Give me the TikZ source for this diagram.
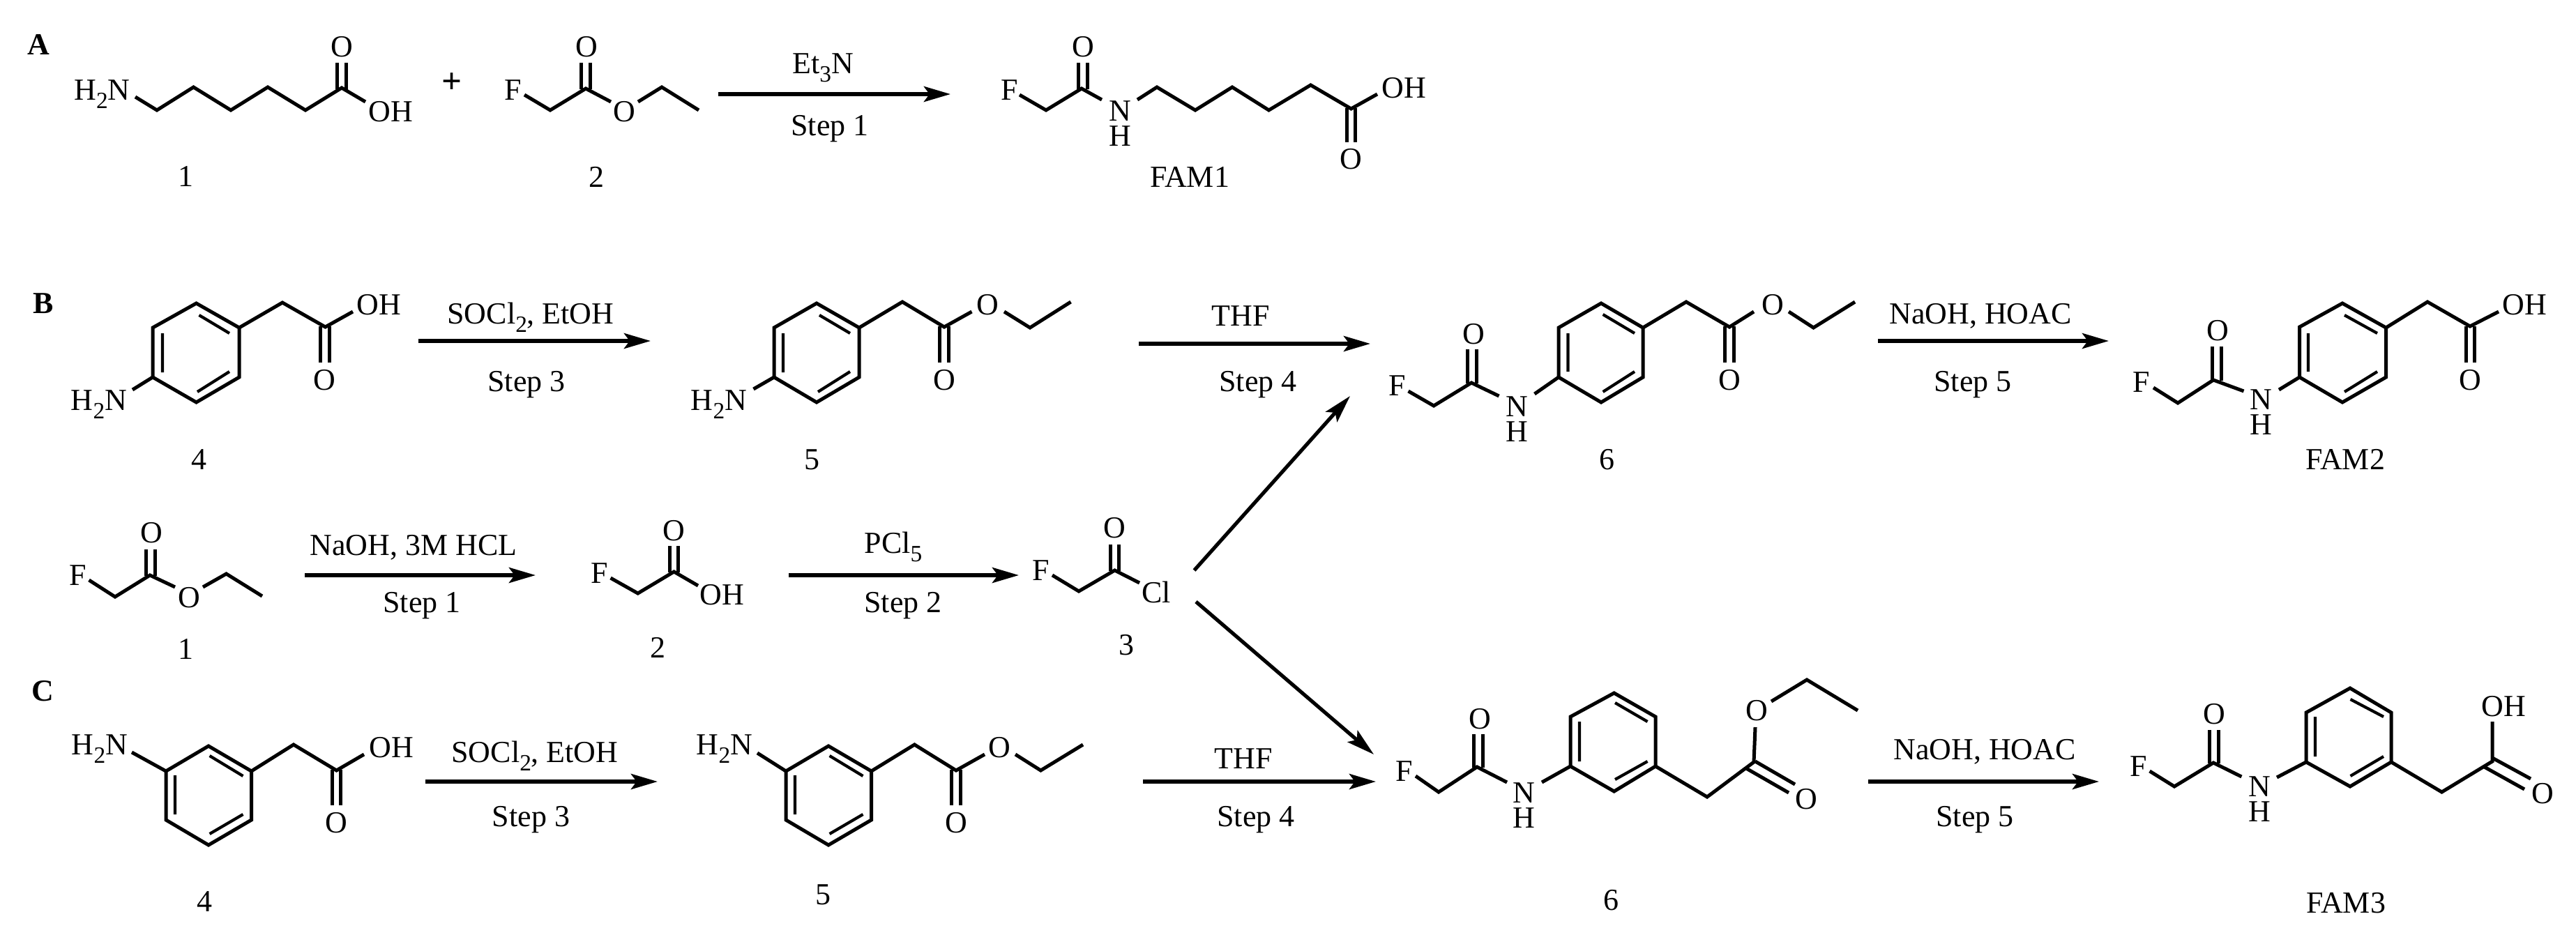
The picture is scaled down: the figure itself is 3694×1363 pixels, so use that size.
\documentclass[tikz,border=0pt]{standalone}
\usepackage{fontspec}
\setmainfont{Liberation Serif}
\usetikzlibrary{arrows.meta}
\newcommand\subs[1]{\raisebox{-0.28em}{\fontsize{9.5pt}{10pt}\selectfont #1}}
\newcommand\lab[3]{\node[txt] (#1) at (#2) {#3};}
\newcommand\nh[2]{\node[txt] (#1) at (#2) {\rlap{\raisebox{0.355cm}{N}}H};}
\newcommand\dv[4][6.2]{\draw[bond] ({#2-#1},#3) -- ({#2-#1},#4) ({#2+#1},#3) -- ({#2+#1},#4);}
\newcommand\rxn[3]{\coordinate (#1s) at (#2); \coordinate (#1e) at (#3); \draw[rxnarrow] (#1s) -- (#1e);}
\tikzset{
  x=0.01cm, y=-0.01cm,
  txt/.style={inner sep=0pt, outer sep=0pt, anchor=base, font=\fontsize{12.5pt}{14pt}\selectfont},
  panel/.style={txt, font=\fontsize{14.5pt}{16pt}\selectfont\bfseries},
  bond/.style={line width=0.05cm, line join=miter, line cap=butt, black},
  inner/.style={line width=0.042cm, black},
  rxnarrow/.style={line width=0.058cm, black, -{Stealth[length=0.38cm, width=0.22cm, inset=0.08cm]}},
  diagarrow/.style={line width=0.052cm, black, -{Stealth[length=0.40cm, width=0.22cm, inset=0.08cm]}},
}
\begin{document}
\begin{tikzpicture}
\useasboundingbox (0,0) rectangle (3694,1363);
% ---------- Panel A
\lab{pA}{55,78}{\bfseries A}
\lab{aN}{146.5,143}{H\subs{2}N}
\draw[bond] (194,139) -- (225,158) -- (277.5,125) -- (331,158) -- (384,125) -- (438,158) -- (490,126) -- (524,146);
\dv{490}{128}{90}
\lab{aO}{490,81}{O}
\lab{aOH}{560,174}{OH}
\lab{a1}{266,267}{1}
\node[panel] (plus) at (648,133) {+};
\lab{bF}{736,143}{F}
\draw[bond] (752,136) -- (789,158) -- (840,127) -- (876,146);
\dv{840}{128}{90}
\lab{bO}{841,81}{O}
\lab{bO2}{895,174}{O}
\draw[bond] (915,146) -- (949,125) -- (1002,158);
\lab{a2}{855,268}{2}
\rxn{ra}{1030,135}{1363,135}
\lab{raT}{1180,105}{Et\subs{3}N}
\lab{raB}{1190,194}{Step 1}
\lab{cF}{1448,143}{F}
\draw[bond] (1462,136) -- (1500,158) -- (1551,127) -- (1580,143);
\dv{1553}{128}{90}
\lab{cO}{1553.5,81}{O}
\nh{cN}{1606,209}
\draw[bond] (1631,143) -- (1659,125) -- (1714,158) -- (1767,125) -- (1819.5,158) -- (1879.5,122) -- (1937.5,156) -- (1975,135);
\dv{1937.5}{155}{204}
\lab{cOH}{2013,140}{OH}
\lab{cO2}{1937.5,242}{O}
\lab{fam1}{1706,268}{FAM1}
% ---------- Panel B, top row
\lab{pB}{62,449}{\bfseries B}
\draw[bond] (281.5,435) -- (343,470) -- (343,541) -- (281.5,577) -- (219,541) -- (219,470) -- cycle;
\draw[inner] (233,478) -- (233,534) (285.5,452) -- (329,478) (329,533) -- (283,562);
\draw[bond] (219,541) -- (190,559);
\lab{dN}{142,588}{H\subs{2}N}
\draw[bond] (343,470) -- (405,434) -- (466.5,469) -- (506,447);
\dv{466}{468}{520}
\lab{dOH}{543,451}{OH}
\lab{dO}{465,559}{O}
\lab{d4}{285,673}{4}
\rxn{rb}{600,489}{933,489}
\lab{rbT}{761,464}{SOCl\subs{2}, EtOH}
\lab{rbB}{755,561}{Step 3}
\draw[bond] (1171,435) -- (1232,470) -- (1232,541) -- (1171,577) -- (1110,541) -- (1110,470) -- cycle;
\draw[inner] (1123,478) -- (1123,534) (1175,452) -- (1219,478) (1219,533) -- (1173,562);
\draw[bond] (1110,541) -- (1080.5,558);
\lab{eN}{1031,588}{H\subs{2}N}
\draw[bond] (1232,470) -- (1294,433) -- (1354,469) -- (1393.5,447);
\dv{1354}{468}{520}
\lab{eO}{1416,451}{O}
\draw[bond] (1440,447) -- (1477,470) -- (1535.5,433);
\lab{eO2}{1354,559}{O}
\lab{e5}{1164,673}{5}
\rxn{rc}{1633,493}{1965,493}
\lab{rcT}{1779,467}{THF}
\lab{rcB}{1804,561}{Step 4}
\lab{fF}{2003.5,567}{F}
\draw[bond] (2019.5,561) -- (2056,582) -- (2110,549) -- (2149.5,568);
\dv{2111}{550}{501}
\lab{fO}{2113,493}{O}
\nh{fN}{2175,633}
\draw[bond] (2200.5,565) -- (2235,541);
\draw[bond] (2296,435) -- (2356,470) -- (2356,541) -- (2296,577) -- (2235,541) -- (2235,470) -- cycle;
\draw[inner] (2248.5,478) -- (2248.5,533) (2298.6,451) -- (2344,478) (2344,533) -- (2298.6,562);
\draw[bond] (2356,470) -- (2418,433) -- (2480,469) -- (2515,447);
\dv{2480}{468}{520}
\lab{fO2}{2480,559}{O}
\lab{fO3}{2542,451}{O}
\draw[bond] (2565,447) -- (2600.5,470) -- (2660,433);
\lab{f6}{2304,673}{6}
\rxn{rd}{2693,489}{3024,489}
\lab{rdT}{2840,464}{NaOH, HOAC}
\lab{rdB}{2829,561}{Step 5}
\lab{gF}{3071,562}{F}
\draw[bond] (3088,556) -- (3123,578) -- (3174,545) -- (3217.5,561);
\dv{3179}{546}{497}
\lab{gO}{3180,488}{O}
\nh{gN}{3242.5,623}
\draw[bond] (3268,559) -- (3297.5,541);
\draw[bond] (3359,435) -- (3421.5,470) -- (3421.5,541) -- (3359,577) -- (3297.5,541) -- (3297.5,469) -- cycle;
\draw[inner] (3310,478) -- (3310,533) (3362,452) -- (3409,478) (3409,533) -- (3362,562);
\draw[bond] (3421.5,470) -- (3481,433) -- (3542,468) -- (3583,447);
\dv{3542.5}{468}{520}
\lab{gOH}{3620,451}{OH}
\lab{gO2}{3542,559}{O}
\lab{fam2}{3363,673}{FAM2}
% ---------- middle row
\lab{hF}{112,839}{F}
\draw[bond] (127.6,832) -- (165,856) -- (215,825) -- (251,842);
\dv{216}{826}{788}
\lab{hO}{217,778}{O}
\lab{hO2}{271,871}{O}
\draw[bond] (291,842) -- (324.5,823) -- (376,855);
\lab{h1}{266,945}{1}
\rxn{re}{437,825}{768,825}
\lab{reT}{593,796}{NaOH, 3M HCL}
\lab{reB}{605,878}{Step 1}
\lab{iF}{860,836}{F}
\draw[bond] (875.6,829) -- (914.7,851) -- (966.5,820) -- (1001,840);
\dv{966.5}{821}{783}
\lab{iO}{966.5,775}{O}
\lab{iOH}{1035,867}{OH}
\lab{i2}{943,943}{2}
\rxn{rf}{1131,825}{1461,825}
\lab{rfT}{1281,793}{PCl\subs{5}}
\lab{rfB}{1295,878}{Step 2}
\lab{jF}{1493,832}{F}
\draw[bond] (1509,825) -- (1547,848) -- (1598.5,818) -- (1634,836);
\dv{1598.5}{819}{781}
\lab{jO}{1598.5,771}{O}
\lab{jCl}{1658,864}{Cl}
\lab{j3}{1615,939}{3}
\coordinate (dus) at (1712.5,818);
\coordinate (due) at (1936,568);
\draw[diagarrow] (dus) -- (due);
\coordinate (dds) at (1715,863);
\coordinate (dde) at (1970,1082);
\draw[diagarrow] (dds) -- (dde);
% ---------- Panel C
\lab{pC}{61,1005}{\bfseries C}
\lab{kN}{143,1082}{H\subs{2}N}
\draw[bond] (189,1079) -- (238,1106);
\draw[bond] (299,1070) -- (360.5,1106) -- (360.5,1176) -- (299,1212) -- (238,1176) -- (238,1106) -- cycle;
\draw[inner] (251,1112) -- (251,1168) (300.6,1084) -- (348.5,1113) (348.5,1168) -- (300.6,1196);
\draw[bond] (360.5,1106) -- (421,1068) -- (482.5,1105) -- (522,1082);
\dv{482.5}{1104}{1155}
\lab{kOH}{561,1086}{OH}
\lab{kO}{482.5,1194}{O}
\lab{k4}{293.5,1307}{4}
\rxn{rg}{610,1121}{943,1121}
\lab{rgT}{767,1093}{SOCl\subs{2}, EtOH}
\lab{rgB}{761.5,1185}{Step 3}
\lab{lN}{1039,1082}{H\subs{2}N}
\draw[bond] (1086,1080) -- (1127,1106);
\draw[bond] (1188,1070) -- (1249.5,1106) -- (1249.5,1176) -- (1188,1212) -- (1127,1176) -- (1127,1106) -- cycle;
\draw[inner] (1140,1112) -- (1140,1168) (1189.6,1084) -- (1237.5,1113) (1237.5,1168) -- (1189.6,1196);
\draw[bond] (1249.5,1106) -- (1311.4,1068) -- (1371,1105) -- (1412,1082);
\dv{1371}{1104}{1155}
\lab{lO}{1433.4,1086}{O}
\draw[bond] (1456,1082) -- (1492.4,1105) -- (1553,1068);
\lab{lO2}{1371,1194}{O}
\lab{l5}{1180,1297}{5}
\rxn{rh}{1639,1121}{1973,1121}
\lab{rhT}{1783,1102}{THF}
\lab{rhB}{1801,1185}{Step 4}
\lab{mF}{2014,1120}{F}
\draw[bond] (2030,1113) -- (2063,1136) -- (2118,1100) -- (2161,1122);
\dv{2120}{1101}{1053}
\lab{mO}{2122,1045}{O}
\nh{mN}{2185,1187}
\draw[bond] (2211,1122) -- (2252,1099);
\draw[bond] (2314.6,994) -- (2374,1028) -- (2374,1099) -- (2314.6,1135) -- (2252,1099) -- (2252,1028) -- cycle;
\draw[inner] (2265,1035) -- (2265,1092) (2316,1008) -- (2362.5,1035) (2362.5,1092) -- (2316,1118);
\draw[bond] (2374,1099) -- (2448,1143) -- (2515,1093) -- (2517,1043);
\draw[bond] (2517,1092) -- (2574,1125) (2504,1102) -- (2565,1137);
\lab{mO2}{2519,1033}{O}
\lab{mO3}{2590,1160}{O}
\draw[bond] (2540,1006) -- (2591,975) -- (2664,1019);
\lab{m6}{2310.6,1305}{6}
\rxn{ri}{2679,1121}{3010,1121}
\lab{riT}{2846,1089}{NaOH, HOAC}
\lab{riB}{2832,1185}{Step 5}
\lab{nF}{3067,1113}{F}
\draw[bond] (3082.6,1106) -- (3118,1128) -- (3174,1094) -- (3214.4,1114);
\dv{3175}{1095}{1047}
\lab{nO}{3175.5,1038}{O}
\nh{nN}{3240,1178}
\draw[bond] (3265,1115) -- (3307,1093);
\draw[bond] (3370,987) -- (3429,1022) -- (3429,1093) -- (3370,1128) -- (3307,1093) -- (3307,1022) -- cycle;
\draw[inner] (3320,1028) -- (3320,1085) (3370.5,1003) -- (3418,1028) (3418,1085) -- (3370.5,1113);
\draw[bond] (3429,1093) -- (3501.5,1136) -- (3574,1092) -- (3574,1035);
\draw[bond] (3574,1087) -- (3629,1117) (3562.5,1100) -- (3620,1132);
\lab{nOH}{3590,1027}{OH}
\lab{nO2}{3646,1152}{O}
\lab{fam3}{3364,1309}{FAM3}
\end{tikzpicture}
\end{document}
